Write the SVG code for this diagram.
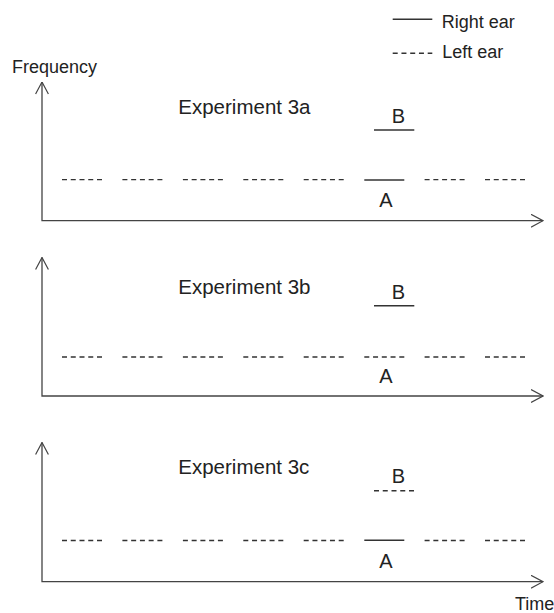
<svg xmlns="http://www.w3.org/2000/svg" width="554" height="613" viewBox="0 0 554 613">
  <style>
    text { font-family: "Liberation Sans", Arial, sans-serif; fill: #222; }
    .lbl { font-size: 18px; }
    .title { font-size: 20.5px; }
    .ab { font-size: 20px; text-anchor: middle; }
    .axis { fill: none; stroke: #444; stroke-width: 1.3; }
    .solid { fill: none; stroke: #333; stroke-width: 1.4; }
    .dash { fill: none; stroke: #333; stroke-width: 1.4; stroke-dasharray: 5 3.75; }
  </style>
  <defs>
    <marker id="chev" viewBox="0 0 13 14" refX="12.5" refY="7" markerWidth="13" markerHeight="14" markerUnits="userSpaceOnUse" orient="auto-start-reverse">
      <path d="M0.5,0.6 L12.5,7 L0.5,13.4" fill="none" stroke="#444" stroke-width="1.2"/>
    </marker>
    <!-- one row of eight left-ear segments -->
    <g id="row">
      <line class="dash" x1="62" y1="0" x2="102" y2="0"/>
      <line class="dash" x1="122.4" y1="0" x2="162.4" y2="0"/>
      <line class="dash" x1="182.9" y1="0" x2="222.9" y2="0"/>
      <line class="dash" x1="243.3" y1="0" x2="283.3" y2="0"/>
      <line class="dash" x1="303.7" y1="0" x2="343.7" y2="0"/>
      <line class="dash" x1="424.6" y1="0" x2="464.6" y2="0"/>
      <line class="dash" x1="485" y1="0" x2="525" y2="0"/>
    </g>
  </defs>

  <!-- legend -->
  <g id="legend">
    <line class="solid" x1="392.7" y1="19.3" x2="432.3" y2="19.3"/>
    <text class="lbl" x="441.7" y="27.5">Right ear</text>
    <line class="dash" x1="392.7" y1="53.3" x2="432.3" y2="53.3"/>
    <text class="lbl" x="442.3" y="57.5">Left ear</text>
  </g>

  <text class="lbl" x="12" y="72.7">Frequency</text>
  <text class="lbl" x="515" y="610">Time</text>

  <!-- Experiment 3a -->
  <g id="exp3a">
    <path class="axis" d="M42,82 L42,220.7 L543,220.7" marker-start="url(#chev)" marker-end="url(#chev)"/>
    <text class="title" x="178.3" y="114">Experiment 3a</text>
    <use href="#row" y="179.6"/>
    <line class="solid" x1="364.3" y1="180" x2="404.3" y2="180"/>
    <line class="solid" x1="374" y1="130" x2="414.3" y2="130"/>
    <text class="ab" x="398.3" y="123.3">B</text>
    <text class="ab" x="386" y="206.7">A</text>
  </g>

  <!-- Experiment 3b -->
  <g id="exp3b">
    <path class="axis" d="M42,257.5 L42,396 L543,396" marker-start="url(#chev)" marker-end="url(#chev)"/>
    <text class="title" x="178.3" y="294">Experiment 3b</text>
    <use href="#row" y="357"/>
    <line class="dash" x1="364.3" y1="357" x2="404.3" y2="357"/>
    <line class="solid" x1="374" y1="305.7" x2="414.3" y2="305.7"/>
    <text class="ab" x="398.3" y="299">B</text>
    <text class="ab" x="386" y="383.3">A</text>
  </g>

  <!-- Experiment 3c -->
  <g id="exp3c">
    <path class="axis" d="M42,442.5 L42,581.7 L543,581.7" marker-start="url(#chev)" marker-end="url(#chev)"/>
    <text class="title" x="178.3" y="474">Experiment 3c</text>
    <use href="#row" y="540.5"/>
    <line class="solid" x1="364.3" y1="540.3" x2="404.3" y2="540.3"/>
    <line class="dash" x1="374" y1="490.7" x2="414.3" y2="490.7"/>
    <text class="ab" x="398.3" y="483.3">B</text>
    <text class="ab" x="386" y="567.7">A</text>
  </g>
</svg>
